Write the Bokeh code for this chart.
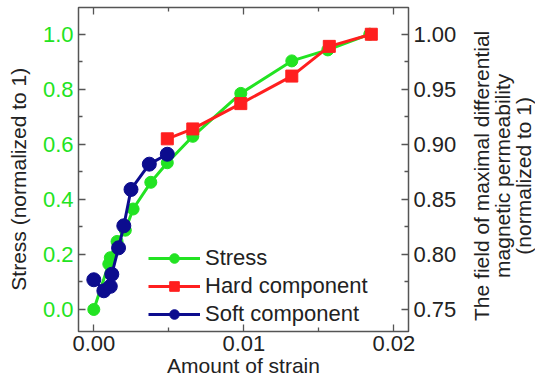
import math
from bokeh.plotting import figure
from bokeh.layouts import row
from bokeh.models import Range1d, LinearAxis, FixedTicker, Legend, LegendItem
from bokeh.core.properties import value
from bokeh.embed import file_html
from bokeh.resources import INLINE

# ---- data ----
stress_x = [0.0, 0.0010, 0.0011, 0.00155, 0.0021, 0.00262, 0.0038, 0.0049, 0.0066, 0.0098, 0.0132, 0.0156, 0.0184]
stress_y = [0.0, 0.165, 0.188, 0.247, 0.288, 0.365, 0.462, 0.533, 0.629, 0.785, 0.903, 0.943, 1.0]

hard_x = [0.0049, 0.0066, 0.0098, 0.0132, 0.0157, 0.0185]
hard_y = [0.905, 0.914, 0.937, 0.962, 0.989, 1.0]

soft_x = [0.0, 0.00067, 0.0011, 0.0012, 0.00165, 0.0020, 0.00248, 0.0037, 0.0049]
soft_y = [0.777, 0.767, 0.771, 0.782, 0.806, 0.826, 0.859, 0.882, 0.891]

x_ticks = [0.0, 0.01, 0.02]
x_minor = [0.005, 0.015]
left_ticks = [0.0, 0.2, 0.4, 0.6, 0.8, 1.0]
left_minor = [-0.1, 0.1, 0.3, 0.5, 0.7, 0.9]
right_ticks = [0.75, 0.80, 0.85, 0.90, 0.95, 1.00]
right_minor = [0.725, 0.775, 0.825, 0.875, 0.925, 0.975, 1.025]

left_title = ["Stress (normalized to 1)"]
right_title_lines = ["The field of maximal differential", "magnetic permeability", "(normalized to 1)"]

GREEN = "#22e322"
RED = "#ff1f1f"
NAVY = "#0c0c8e"
DARK = "#222222"
FRAME = "#555555"
FONT = "Liberation Sans"
FS = "21px"
TFS = "22px"

H = 383
W_LEFT = 34
W_MAIN = 426
W_RIGHT = 535 - W_LEFT - W_MAIN

p = figure(width=W_MAIN, height=H, output_backend="svg", toolbar_location=None,
           x_range=Range1d(-0.00102, 0.02098), y_range=Range1d(-0.080, 1.097),
           min_border_left=44, min_border_right=52,
           min_border_top=7, min_border_bottom=52,
           x_axis_location=None, y_axis_location=None)
p.extra_y_ranges = {"right": Range1d(0.730, 1.0243)}
p.grid.visible = False
p.outline_line_color = FRAME
p.outline_line_width = 1.5
p.background_fill_color = "white"
p.border_fill_color = "white"


def style_axis(ax, label_size=TFS, color=DARK):
    ax.axis_line_color = None
    ax.major_tick_line_color = FRAME
    ax.minor_tick_line_color = FRAME
    ax.major_tick_line_width = 1.3
    ax.minor_tick_line_width = 1.3
    ax.major_tick_in = 7
    ax.major_tick_out = 0
    ax.minor_tick_in = 4
    ax.minor_tick_out = 0
    ax.major_label_text_font = FONT
    ax.major_label_text_font_size = label_size
    ax.major_label_text_color = color
    ax.axis_label_text_font = FONT
    ax.axis_label_text_font_size = FS
    ax.axis_label_text_font_style = "normal"
    ax.axis_label_text_color = DARK


xb = LinearAxis(ticker=FixedTicker(ticks=x_ticks, minor_ticks=x_minor), axis_label="Amount of strain")
style_axis(xb)
xb.major_label_standoff = 4
xb.axis_label_standoff = 0
xb.major_label_overrides = {0.0: "0.00", 0.01: "0.01", 0.02: "0.02"}
p.add_layout(xb, "below")

xt = LinearAxis(ticker=FixedTicker(ticks=x_ticks, minor_ticks=x_minor))
style_axis(xt, label_size="0px", color=None)
xt.major_label_standoff = 0
p.add_layout(xt, "above")

yl = LinearAxis(ticker=FixedTicker(ticks=left_ticks, minor_ticks=left_minor))
style_axis(yl, color=GREEN)
yl.major_label_standoff = 5
yl.major_label_overrides = {v: f"{v:.1f}" for v in left_ticks}
p.add_layout(yl, "left")

yr = LinearAxis(y_range_name="right", ticker=FixedTicker(ticks=right_ticks, minor_ticks=right_minor))
style_axis(yr)
yr.major_label_standoff = 5
yr.major_label_overrides = {v: f"{v:.2f}" for v in right_ticks}
p.add_layout(yr, "right")

# ---- series ----
g_line = p.line(stress_x, stress_y, line_color=GREEN, line_width=3)
g_pts = p.scatter(stress_x, stress_y, marker="circle", size=12, fill_color=GREEN, line_color=GREEN)

r_line = p.line(hard_x, hard_y, line_color=RED, line_width=3, y_range_name="right")
r_pts = p.scatter(hard_x, hard_y, marker="square", size=12, fill_color=RED, line_color=RED, y_range_name="right")

n_line = p.line(soft_x, soft_y, line_color=NAVY, line_width=3, y_range_name="right")
n_pts = p.scatter(soft_x, soft_y, marker="circle", size=14, fill_color=NAVY, line_color=NAVY, y_range_name="right")

legend = Legend(items=[
    LegendItem(label="Stress", renderers=[g_line, g_pts]),
    LegendItem(label="Hard component", renderers=[r_line, r_pts]),
    LegendItem(label="Soft component", renderers=[n_line, n_pts]),
], location=(70, 4))
legend.border_line_color = None
legend.background_fill_alpha = 0
legend.padding = 0
legend.margin = 0
legend.spacing = 2
legend.glyph_width = 52
legend.glyph_height = 24
legend.label_height = 24
legend.label_standoff = 5
legend.label_text_font = FONT
legend.label_text_font_size = TFS
legend.label_text_color = DARK
p.add_layout(legend, "center")


# ---- side strips holding the rotated axis titles (pixel-unit ranges) ----
def title_strip(width, xs, ys, texts):
    s = figure(width=width, height=H, output_backend="svg", toolbar_location=None,
               x_range=Range1d(0, width), y_range=Range1d(0, H),
               min_border=0, min_border_left=0, min_border_right=0,
               min_border_top=0, min_border_bottom=0,
               x_axis_location=None, y_axis_location=None)
    s.grid.visible = False
    s.outline_line_color = None
    s.text(x=xs, y=ys, text=texts, angle=math.pi / 2, text_align="center",
           text_baseline="middle", text_font=value(FONT), text_font_size=value(FS),
           text_color=DARK)
    return s


left_strip = title_strip(W_LEFT, [17.5], [180], left_title)
right_strip = title_strip(W_RIGHT, [21, 42, 63], [184, 184, 184], right_title_lines)

layout = row(left_strip, p, right_strip, spacing=0)
open("out.html", "w").write(file_html(layout, INLINE))
